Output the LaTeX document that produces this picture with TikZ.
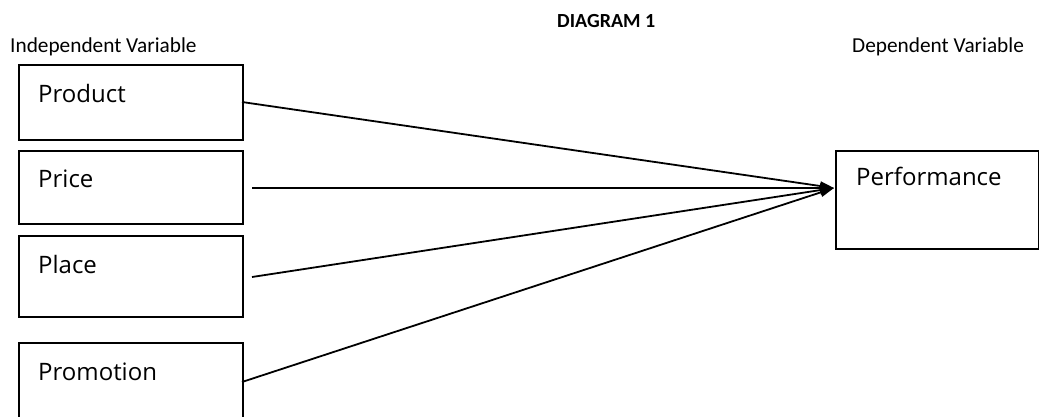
\documentclass[tikz,border=0pt]{standalone}
\usepackage{fontspec}
\setmainfont{Carlito}
\newfontfamily\boxfont{Open Sans}
\usetikzlibrary{arrows.meta}
\begin{document}
\begin{tikzpicture}[x=1pt,y=-1pt,
  varbox/.style={draw=black,line width=2pt,inner sep=0pt,anchor=north west},
  boxtext/.style={font=\boxfont\fontsize{24}{28}\selectfont,anchor=base west,inner sep=0pt},
  headtext/.style={font=\fontsize{21.3}{25}\selectfont,anchor=base west,inner sep=0pt},
  link/.style={line width=1.8pt,-{Triangle[length=14pt,width=9pt]}}]
\useasboundingbox (0,0) rectangle (1039,416);
\begin{scope}
\clip (0,0) rectangle (1039,416);

% headings
\node[font=\bfseries\fontsize{20}{24}\selectfont,anchor=base west,inner sep=0pt] (title) at (557,27) {DIAGRAM 1};
\node[headtext] (indep) at (10,52) {Independent Variable};
\node[headtext] (dep) at (852,52) {Dependent Variable};

% independent variable boxes
\node[varbox,minimum width=224pt,minimum height=75pt] (product) at (18,64) {};
\node[varbox,minimum width=224pt,minimum height=73pt] (price) at (18,150) {};
\node[varbox,minimum width=224pt,minimum height=81pt] (place) at (18,235) {};
\node[varbox,minimum width=224pt,minimum height=100pt] (promotion) at (18,342) {};

\node[boxtext] (tproduct) at (38,102) {Product};
\node[boxtext] (tprice) at (38,187) {Price};
\node[boxtext] (tplace) at (38,273) {Place};
\node[boxtext] (tpromotion) at (38,380) {Promotion};

% dependent variable box
\node[varbox,minimum width=203pt,minimum height=98pt] (performance) at (835,150) {};
\node[boxtext] (tperformance) at (856,185) {Performance};

% connectors
\coordinate (s1) at (242,102);
\coordinate (s2) at (252,188);
\coordinate (s3) at (252,277);
\coordinate (s4) at (242,382);
\coordinate (hub) at (834,188);
\draw[link] (s1) -- (hub);
\draw[link] (s2) -- (hub);
\draw[link] (s3) -- (hub);
\draw[link] (s4) -- (hub);
\end{scope}
\end{tikzpicture}
\end{document}
